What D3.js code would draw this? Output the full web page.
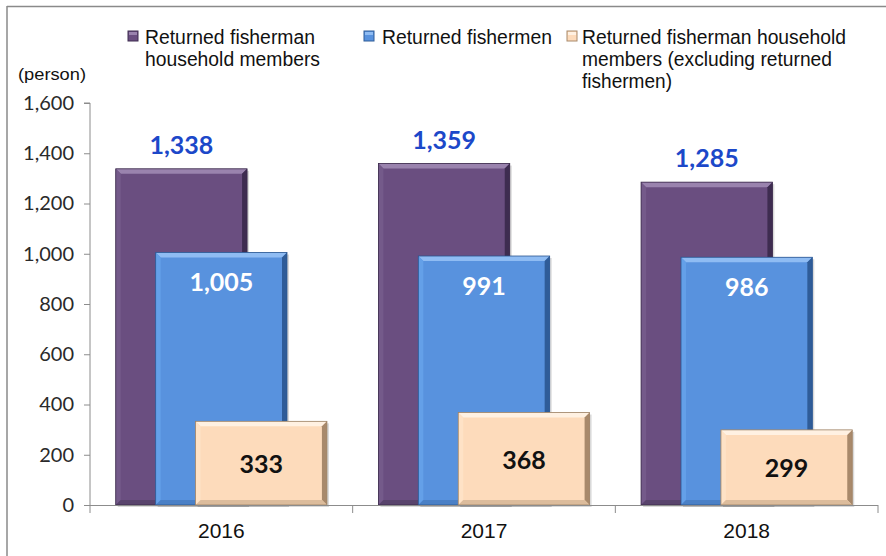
<!DOCTYPE html>
<html><head><meta charset="utf-8">
<script src="https://cdn.jsdelivr.net/npm/d3@7"></script>
<style>body{margin:0;background:#fff}svg{display:block}</style>
</head><body>
<svg id="c" width="886" height="556"></svg>
<script>
const years = ["2016", "2017", "2018"];
const householdMembers = [1338, 1359, 1285];
const fishermen = [1005, 991, 986];
const excludingFishermen = [333, 368, 299];
const yTicks = [0, 200, 400, 600, 800, 1000, 1200, 1400, 1600];
const seriesNames = ["Returned fisherman household members", "Returned fishermen", "Returned fisherman household members (excluding returned fishermen)"];

const svg = d3.select("#c");
const W = 886, H = 556;
const m = {left: 90, right: 8, top: 103, bottom: 51};
const x = d3.scaleBand().domain(years).range([m.left, W - m.right]).paddingInner(0).paddingOuter(0);
const y = d3.scaleLinear().domain([0, 1600]).range([H - m.bottom, m.top]);

// frame
svg.append("line").attr("x1", 7).attr("x2", W).attr("y1", 6.5).attr("y2", 6.5).attr("stroke", "#8a8a8a").attr("stroke-width", 1.5);
svg.append("line").attr("x1", 7).attr("x2", 7).attr("y1", 6).attr("y2", H).attr("stroke", "#8a8a8a").attr("stroke-width", 1.5);

const styles = [
  {base: "#6a4e80", light: "#745a8a", top: "#9a83ae", dark: "#3e2c50", bottom: "#58436c", stroke: "#3a2a4a", label: "#1c48c9"},
  {base: "#5892de", light: "#64a0e8", top: "#8fbcf3", dark: "#2f5c98", bottom: "#4a80c6", stroke: "#2a5590", label: "#ffffff"},
  {base: "#fddbbb", light: "#fee2c6", top: "#fff1e2", dark: "#a8896b", bottom: "#dcbc9c", stroke: "#9b8064", label: "#111111"}
];
const series = [householdMembers, fishermen, excludingFishermen];

const bw = x.bandwidth();
const barW = bw * 0.5;
const startOff = bw * 0.098;
const step = bw * 0.152;
const bev = 5;

function bevelBar(g, x0, y0, w, h, s) {
  g.append("rect").attr("x", x0 + 2).attr("y", y0 + 2).attr("width", w).attr("height", h).attr("fill", "rgba(0,0,0,0.15)");
  g.append("rect").attr("x", x0).attr("y", y0).attr("width", w).attr("height", h).attr("fill", s.base);
  const b = Math.min(bev, h / 2);
  const poly = (pts, fill) => g.append("polygon").attr("points", pts.map(p => p.join(",")).join(" ")).attr("fill", fill);
  poly([[x0, y0], [x0 + w, y0], [x0 + w - b, y0 + b], [x0 + b, y0 + b]], s.top);
  poly([[x0, y0], [x0 + b, y0 + b], [x0 + b, y0 + h - b], [x0, y0 + h]], s.light);
  poly([[x0 + w, y0], [x0 + w, y0 + h], [x0 + w - b, y0 + h - b], [x0 + w - b, y0 + b]], s.dark);
  poly([[x0, y0 + h], [x0 + b, y0 + h - b], [x0 + w - b, y0 + h - b], [x0 + w, y0 + h]], s.bottom);
  g.append("rect").attr("x", x0).attr("y", y0).attr("width", w).attr("height", h).attr("fill", "none").attr("stroke", s.stroke).attr("stroke-width", 0.8);
}

const gBars = svg.append("g");
series.forEach((vals, si) => {
  const s = styles[si];
  years.forEach((yr, i) => {
    const x0 = x(yr) + startOff + si * step;
    const y0 = y(vals[i]);
    const h = y(0) - y0;
    bevelBar(gBars, x0, y0, barW, h, s);
    let ty;
    if (si === 0) ty = y0 - 15;
    else if (si === 1) ty = y0 + 39;
    else ty = (y0 + y(0)) / 2 + 10;
    gBars.append("text").attr("x", x0 + barW / 2).attr("y", ty).attr("text-anchor", "middle")
      .attr("font-family", "Lato, 'Open Sans', sans-serif").attr("font-weight", "bold").attr("font-size", 25)
      .attr("fill", s.label).text(d3.format(",")(vals[i]));
  });
});

// y axis
const ya = svg.append("g").attr("transform", `translate(${m.left},0)`)
  .call(d3.axisLeft(y).tickValues(yTicks).tickFormat(d3.format(",")).tickSize(6).tickPadding(10));
ya.select(".domain").attr("stroke", "#8c8c8c").attr("d", `M-6,${y(1600)}H0V${y(0)}`);
ya.selectAll(".tick line").attr("stroke", "#8c8c8c");
ya.selectAll("text").attr("font-family", "Lato, sans-serif").attr("font-size", 20).attr("fill", "#2a2a2a");

// x axis
const xa = svg.append("g").attr("transform", `translate(0,${y(0)})`);
xa.append("line").attr("x1", m.left - 6).attr("x2", W - m.right).attr("y1", 0.5).attr("y2", 0.5).attr("stroke", "#8c8c8c");
[m.left, ...years.map(d => x(d) + bw)].forEach(v => {
  xa.append("line").attr("x1", v).attr("x2", v).attr("y1", 0).attr("y2", 8).attr("stroke", "#8c8c8c");
});
years.forEach(yr => {
  xa.append("text").attr("x", x(yr) + bw / 2).attr("y", 33).attr("text-anchor", "middle")
    .attr("font-family", "'Liberation Sans', Arial, sans-serif").attr("font-size", 21).attr("fill", "#111").text(yr);
});

// unit label
svg.append("text").attr("x", 18).attr("y", 80).attr("font-family", "'Liberation Sans Narrow', 'Liberation Sans', sans-serif")
  .attr("font-size", 17).attr("fill", "#111").attr("textLength", 68).attr("lengthAdjust", "spacingAndGlyphs").text("(person)");

// legend
const legend = [
  {mx: 128, tx: 145, lines: ["Returned fisherman", "household members"], lens: [170, 175]},
  {mx: 364, tx: 382, lines: ["Returned fishermen"], lens: [170]},
  {mx: 567, tx: 582, lines: ["Returned fisherman household", "members (excluding returned", "fishermen)"], lens: [264, 250, 90]}
];
legend.forEach((l, i) => {
  const s = styles[i];
  svg.append("rect").attr("x", l.mx).attr("y", 31).attr("width", 10).attr("height", 10).attr("fill", s.base).attr("stroke", s.dark).attr("stroke-width", 1);
  svg.append("rect").attr("x", l.mx + 1).attr("y", 32).attr("width", 8).attr("height", 3).attr("fill", s.top);
  l.lines.forEach((t, j) => {
    svg.append("text").attr("x", l.tx).attr("y", 44 + j * 22)
      .attr("font-family", "'Liberation Sans Narrow', 'Liberation Sans', sans-serif").attr("font-size", 20).attr("fill", "#111")
      .attr("textLength", l.lens[j]).attr("lengthAdjust", "spacingAndGlyphs").text(t);
  });
});
</script>
</body></html>
